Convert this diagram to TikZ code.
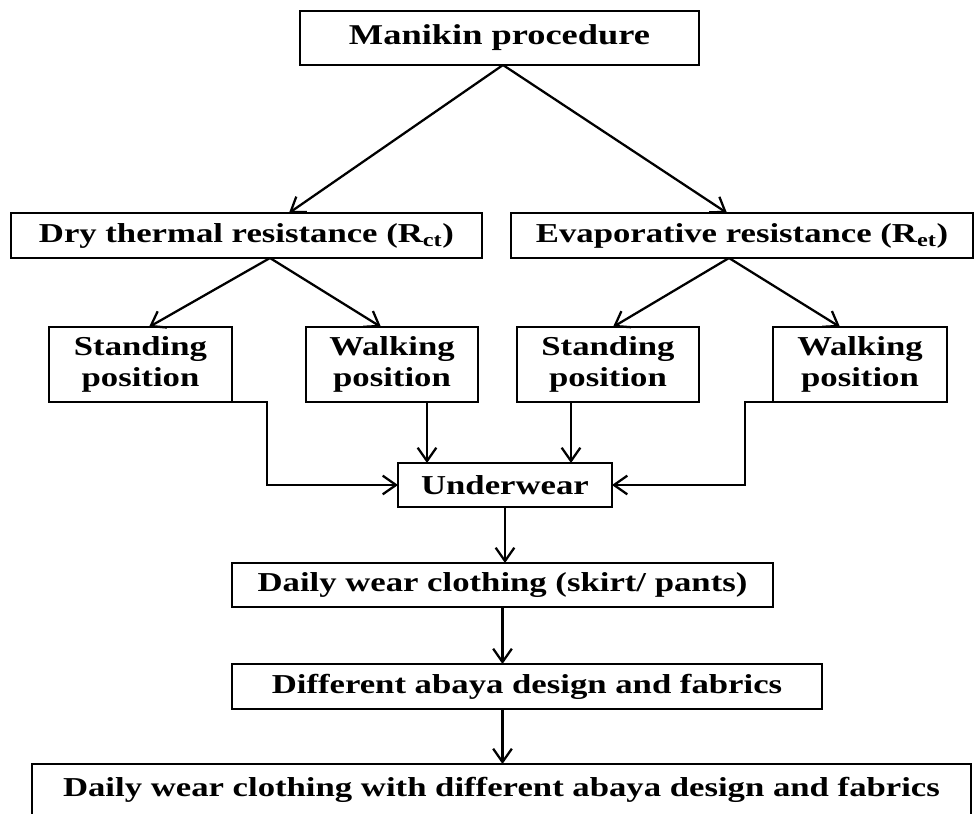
\documentclass[tikz,border=0pt]{standalone}
\usepackage{fontspec}
\setmainfont[FakeStretch=1.27]{Liberation Serif}
\usetikzlibrary{arrows.meta, calc}

\tikzset{
  box/.style={draw, line width=1.6pt, inner sep=0pt, outer sep=0pt, align=center,
    font=\fontsize{20.5}{23.5}\selectfont\bfseries},
  arr/.style={line width=1.7pt, -{Straight Barb[length=10pt,width=14pt]}}
}

\begin{document}
\begin{tikzpicture}[x=0.75pt,y=-0.75pt]
  \clip (0,0) rectangle (975,814);
  % top levels
  \node[box, minimum width=299.25pt, minimum height=40.5pt,
    font=\fontsize{21.5}{23}\selectfont\bfseries] (man) at (499.5,38) {Manikin procedure};
  \node[box, minimum width=353.25pt, minimum height=33.75pt] (dry) at (246.5,235.5)
    {Dry thermal resistance (R\textsubscript{ct})};
  \node[box, minimum width=346.5pt, minimum height=33.75pt] (evap) at (742,235.5)
    {Evaporative resistance (R\textsubscript{et})};
  % positions
  \node[box, minimum width=137.25pt, minimum height=56.25pt] (sl) at (140.5,364.5) {Standing\\position};
  \node[box, minimum width=129pt, minimum height=56.25pt] (wl) at (392,364.5) {Walking\\position};
  \node[box, minimum width=136.5pt, minimum height=56.25pt] (sr) at (608,364.5) {Standing\\position};
  \node[box, minimum width=130.5pt, minimum height=56.25pt] (wr) at (860,364.5) {Walking\\position};
  % clothing layers
  \node[box, minimum width=160.5pt, minimum height=33pt] (uw) at (505,485) {Underwear};
  \node[box, minimum width=405.75pt, minimum height=33pt] (dw) at (502.5,585)
    {Daily wear clothing (skirt/ pants)};
  \node[box, minimum width=442.5pt, minimum height=33.75pt] (ab) at (527,686.5)
    {Different abaya design and fabrics};
  \node[box, minimum width=704.25pt, minimum height=39pt] (fin) at (501.5,790)
    {Daily wear clothing with different abaya design and fabrics};

  \draw[arr] ($(man.south)+(3.5,0)$) -- ($(dry.north)+(42.5,0)$);
  \draw[arr] ($(man.south)+(3.5,0)$) -- ($(evap.north)+(-15,0)$);
  \draw[arr] ($(dry.south)+(23.5,0)$) -- ($(sl.north)+(8.5,0)$);
  \draw[arr] ($(dry.south)+(23.5,0)$) -- ($(wl.north)+(-11,0)$);
  \draw[arr] ($(evap.south)+(-13,0)$) -- ($(sr.north)+(5,0)$);
  \draw[arr] ($(evap.south)+(-13,0)$) -- ($(wr.north)+(-20,0)$);

  \coordinate (uwl) at ($(uw.north west)+(29,0)$);
  \coordinate (uwr) at ($(uw.north east)+(-41,0)$);
  \draw[arr] (sl.south) -- ++(126.5,0) |- (uw.west);
  \draw[arr] (wl.south -| uwl) -- (uwl);
  \draw[arr] (sr.south -| uwr) -- (uwr);
  \draw[arr] (wr.south) -- ++(-115,0) |- (uw.east);

  \draw[arr] (uw.south) -- (uw.south |- dw.north);
  \draw[arr] (dw.south) -- (dw.south |- ab.north);
  \draw[arr] (dw.south |- ab.south) -- (dw.south |- fin.north);
\end{tikzpicture}
\end{document}
